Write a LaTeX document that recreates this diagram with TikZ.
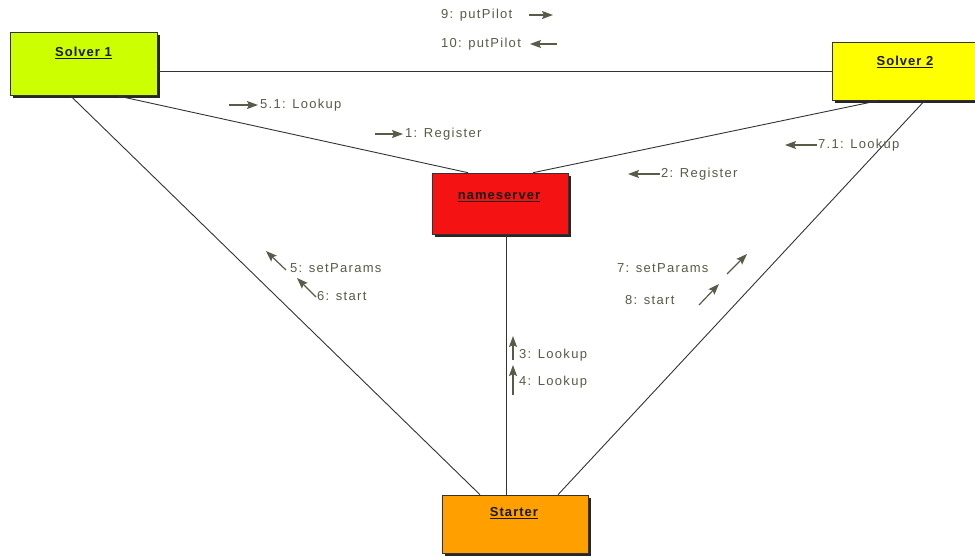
\documentclass[tikz,border=0pt]{standalone}
\usepackage{fontspec}
\setmainfont{Liberation Sans}
\newfontfamily\lblfont[LetterSpace=10]{Liberation Sans}
\newfontfamily\boxfont[LetterSpace=8]{Liberation Sans}
\usetikzlibrary{shadows,arrows.meta}
\definecolor{msgcol}{HTML}{5A5A48}
\definecolor{linecol}{HTML}{333333}
\definecolor{solverone}{HTML}{CCFF00}
\definecolor{solvertwo}{HTML}{FFFF00}
\definecolor{nsred}{HTML}{F41212}
\definecolor{starterorange}{HTML}{FFA000}
\begin{document}
\begin{tikzpicture}[x=1pt,y=-1pt,
  objbox/.style={draw=black!80, line width=0.6pt, rectangle, inner sep=0pt,
    drop shadow={shadow xshift=3pt, shadow yshift=-3pt, fill=black!85, opacity=1}},
  objlbl/.style={inner sep=0pt, font=\boxfont\bfseries\fontsize{13}{15}\selectfont, text=black!90},
  conn/.style={draw=linecol, line width=0.9pt},
  msg/.style={inner sep=0pt, anchor=west, font=\lblfont\fontsize{13}{15}\selectfont, text=msgcol},
  msgarrow/.style={draw=msgcol, line width=1.2pt, -{Stealth[length=11pt,width=8pt,inset=2pt]}}
]
\useasboundingbox (0,0) rectangle (975,557);
\fill[white] (0,0) rectangle (975,557);

% object boxes
\node[objbox, fill=solverone, minimum width=147pt, minimum height=63pt] (s1) at (83.5,63.5) {};
\node[objlbl] (s1t) at (83.5,53) {\underline{Solver 1}};
\node[objbox, fill=solvertwo, minimum width=146pt, minimum height=58pt] (s2) at (905,71) {};
\node[objlbl] (s2t) at (905,62) {\underline{Solver 2}};
\node[objbox, fill=nsred, minimum width=136pt, minimum height=61pt] (ns) at (500,203.5) {};
\node[objlbl] (nst) at (499,197) {\underline{nameserver}};
\node[objbox, fill=starterorange, minimum width=146pt, minimum height=58pt] (st) at (515,524) {};
\node[objlbl] (stt) at (514,513) {\underline{Starter}};

% connectors
\draw[conn] ([yshift=-7.5pt]s1.east) -- (s2.west);
\draw[conn] ([xshift=31.5pt]s1.south) -- ([xshift=-32pt]ns.north);
\draw[conn] ([xshift=-25pt]s2.south) -- ([xshift=33pt]ns.north);
\draw[conn] ([xshift=-13.5pt]s1.south) -- ([xshift=-35pt]st.north);
\draw[conn] ([xshift=20pt]s2.south) -- ([xshift=43pt]st.north);
\draw[conn] ([xshift=6pt]ns.south) -- ([xshift=-9pt]st.north);

% messages
\node[msg] (m9) at (441,15) {9: putPilot};
\draw[msgarrow] (529,15) -- (553,15);
\node[msg] (m10) at (441,44) {10: putPilot};
\draw[msgarrow] (557,44) -- (530,44);

\node[msg] (m51) at (260,105) {5.1: Lookup};
\draw[msgarrow] (229,105) -- (258,105);
\node[msg] (m1) at (405,134) {1: Register};
\draw[msgarrow] (375,134) -- (403,134);

\node[msg] (m71) at (818,145) {7.1: Lookup};
\draw[msgarrow] (817,145) -- (785,145);
\node[msg] (m2) at (661,174) {2: Register};
\draw[msgarrow] (660,174) -- (628,174);

\node[msg] (m5) at (290,268) {5: setParams};
\draw[msgarrow] (286,270) -- (266,251);
\node[msg] (m6) at (317,296) {6: start};
\draw[msgarrow] (316,297) -- (297,278);

\node[msg] (m7) at (617,268) {7: setParams};
\draw[msgarrow] (727,274) -- (747,254);
\node[msg] (m8) at (625,300) {8: start};
\draw[msgarrow] (699,305) -- (719,284);

\node[msg] (m3) at (519,355) {3: Lookup};
\draw[msgarrow] (513,360) -- (513,336);
\node[msg] (m4) at (519,382) {4: Lookup};
\draw[msgarrow] (513,395) -- (513,365);
\end{tikzpicture}
\end{document}
